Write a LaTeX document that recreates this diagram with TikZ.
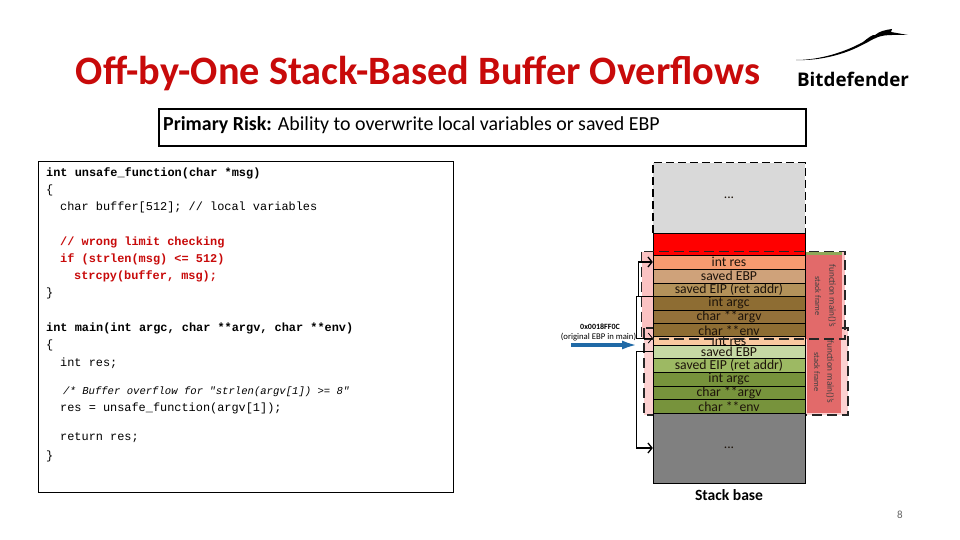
\documentclass[tikz,border=0pt]{standalone}
\usepackage{fontspec}
\setmainfont{Carlito}
\setmonofont{Liberation Mono}
\newfontfamily\logofont{Open Sans}
\usetikzlibrary{arrows.meta}
\definecolor{titlered}{HTML}{C80A0A}
\definecolor{framepink}{HTML}{FBC2C2}
\definecolor{frameblock}{HTML}{E26A6A}
\definecolor{framegreen}{HTML}{8FA858}
\definecolor{arrowblue}{HTML}{1F69A6}
\definecolor{rowa}{HTML}{F79A70}
\definecolor{rowb}{HTML}{CFA27A}
\definecolor{rowc}{HTML}{B3925A}
\definecolor{rowd}{HTML}{8E6D33}
\definecolor{rowe}{HTML}{94713A}
\definecolor{rowf}{HTML}{FAC9A0}
\definecolor{rowg}{HTML}{C6D9A4}
\definecolor{rowh}{HTML}{9DB963}
\definecolor{rowi}{HTML}{77933C}
\tikzset{x=1pt,y=-1pt,
  codeline/.style={anchor=west,inner sep=0,font=\ttfamily\fontsize{11.9}{12}\selectfont},
  codebold/.style={codeline,font=\ttfamily\bfseries\fontsize{11.9}{12}\selectfont},
  coderisk/.style={codebold,text=titlered},
  stackrow/.style={draw=black,inner sep=0,minimum width=152,text=black!85!brown,font=\fontsize{13.7}{14}\selectfont},
  framedash/.style={draw=black!85,dash pattern=on 10pt off 5pt,line width=1.2pt},
  framelabel/.style={rotate=-90,inner sep=0,text=black!75},
  stacklink/.style={draw=black,line width=1.3pt,-{Straight Barb[length=4pt,width=10pt]}},
  thinlink/.style={stacklink,line width=.8pt}}

\begin{document}
\begin{tikzpicture}
    \useasboundingbox[fill=white] (0,0) rectangle (960,540);
    % heading
    \node[anchor=base,inner sep=0,text=titlered,font=\bfseries\fontsize{40.3}{42}\selectfont] (title) at (418,85) {Off-by-One Stack-Based Buffer Overflows};
    \fill[black] (796,60) .. controls (820,60) and (845,52) .. (863,42) .. controls (868,38) and (873,34) .. (875,35) .. controls (880,31) and (885,30) .. (892,29) -- (891,32) -- (908,35) -- (892,35) .. controls (880,35) and (875,38) .. (868,42) -- (860,46) .. controls (845,54) and (820,61) .. (796,60) -- cycle;
    \node[inner sep=0,font=\logofont\bfseries\fontsize{18.8}{20}\selectfont] (logo) at (853,79) {Bitdefender};
    \node[draw=black,line width=2.2pt,minimum width=647,minimum height=37,anchor=north west,inner sep=0] (risk) at (158,108) {};
    \node[anchor=west,inner sep=0,font=\fontsize{19.9}{21}\selectfont] (risktext) at (163,125.5) {\textbf{Primary Risk:} Ability to overwrite local variables or saved EBP};
    % code box
    \node[draw=black,line width=.8pt,minimum width=415,minimum height=331,anchor=north west,inner sep=0] (codebox) at (38,161) {};
    \node[codebold] (c1) at (46,173) {int unsafe\_function(char *msg)};
    \node[codeline] (c2) at (46,190) {\{};
    \node[codeline] (c3) at (60,207) {char buffer[512]; // local variables};
    \node[coderisk] (c4) at (60,242) {// wrong limit checking};
    \node[coderisk] (c5) at (60,259) {if (strlen(msg) <= 512)};
    \node[coderisk] (c6) at (74,276) {strcpy(buffer, msg);};
    \node[codeline] (c7) at (46,293) {\}};
    \node[codebold] (c8) at (46,328) {int main(int argc, char **argv, char **env)};
    \node[codeline] (c9) at (46,345) {\{};
    \node[codeline] (c10) at (60,363) {int res;};
    \node[anchor=west,inner sep=0,font=\ttfamily\itshape\fontsize{10.6}{11}\selectfont] (c11) at (63,392) {/* Buffer overflow for "strlen(argv[1]) >= 8"};
    \node[codeline] (c12) at (60,408) {res = unsafe\_function(argv[1]);};
    \node[codeline] (c13) at (60,438) {return res;};
    \node[codeline] (c14) at (46,456) {\}};
    % stack frames, behind the rows
    \fill[framepink] (641.5,251.5) rectangle (845,339);
    \fill[framepink,fill opacity=.75] (644,328) rectangle (848,415);
    \draw[framedash] (644,328) rectangle (848,415);
    \fill[frameblock] (806,255) rectangle (842,339);
    \fill[frameblock] (807,339) rectangle (841,413);
    \fill[framegreen] (806,251.5) rectangle (842,255);
    % the rows
    \node[stackrow,draw=none,minimum height=70,fill=black!15] (top) at (729,198) {...};
    \node[stackrow,minimum height=22,fill=red] (red) at (729,244) {};
    \node[stackrow,minimum height=14,fill=rowa] (res1) at (729,262) {int res};
    \node[stackrow,minimum height=14,fill=rowb] (ebp1) at (729,276) {saved EBP};
    \node[stackrow,minimum height=13.5,fill=rowc] (eip1) at (729,289.8) {saved EIP (ret addr)};
    \node[stackrow,minimum height=13.5,fill=rowd] (argc1) at (729,303.2) {int argc};
    \node[stackrow,minimum height=13.5,fill=rowe] (argv1) at (729,316.8) {char **argv};
    \node[stackrow,minimum height=13.5,fill=rowd] (env1) at (729,330.2) {char **env};
    \node[stackrow,minimum height=8,fill=rowf] (res2) at (729,341) {int res};
    \node[stackrow,minimum height=13.5,fill=rowg] (ebp2) at (729,351.8) {saved EBP};
    \node[stackrow,minimum height=14,fill=rowh] (eip2) at (729,365) {saved EIP (ret addr)};
    \node[stackrow,minimum height=14,fill=rowi] (argc2) at (729,379) {int argc};
    \node[stackrow,minimum height=13.5,fill=rowi] (argv2) at (729,392.8) {char **argv};
    \node[stackrow,minimum height=13.5,fill=rowi] (env2) at (729,406.2) {char **env};
    \node[stackrow,minimum height=70,fill=black!50] (bottom) at (729,448) {...};
    \draw[line width=1.4pt,dash pattern=on 8pt off 4pt] (top.south west) -- (top.north west) -- (top.north east) -- (top.south east);
    \draw[framedash] (641.5,251.5) rectangle (845,339);
    \node[framelabel,font=\fontsize{9.2}{10}\selectfont] (labela) at (832,296) {function main()'s};
    \node[framelabel,font=\fontsize{8.4}{10}\selectfont] (labelb) at (818,296) {stack frame};
    \node[framelabel,font=\fontsize{9.2}{10}\selectfont] (labelc) at (830,372) {function main()'s};
    \node[framelabel,font=\fontsize{8.4}{10}\selectfont] (labeld) at (817,372) {stack frame};
    \node[inner sep=0,font=\bfseries\fontsize{15.6}{16}\selectfont] (base) at (729,495) {Stack base};
    % links between the rows
    \draw[stacklink] (argc1.north west) -- ++(-14,0) |- (res1.west);
    \draw[thinlink] (argc1.north west) -- ++(-16,0) |- ([yshift=-2pt]res2.north west);
    \draw[stacklink] (ebp2.west) -- ++(-16,0) |- (bottom.west);
    % address label
    \node[inner sep=0,font=\bfseries\fontsize{8}{9}\selectfont] (addr) at (600,327) {0x0018FF0C};
    \node[inner sep=0,font=\fontsize{8.7}{9}\selectfont] (addrnote) at (598.5,337) {(original EBP in main)};
    \coordinate (bluestart) at (571,345);
    \coordinate (blueend) at (638,345);
    \draw[arrowblue,line width=4.5pt,-{Latex[length=16pt,width=9pt]}] (bluestart) -- (blueend);
    \node[inner sep=0,text=black!60,font=\fontsize{11}{12}\selectfont] (pagenum) at (900,515) {8};
  \end{tikzpicture}
\end{document}
